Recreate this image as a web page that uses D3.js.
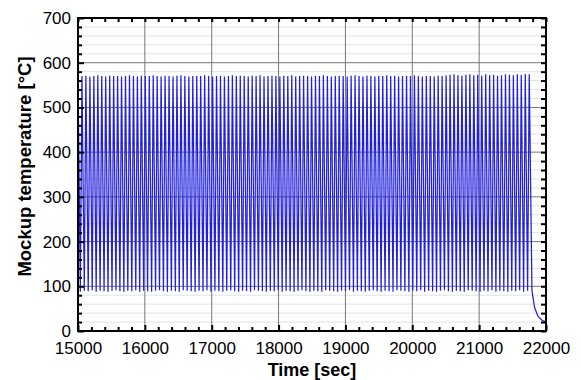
<!DOCTYPE html>
<html>
<head>
<meta charset="utf-8">
<script src="https://cdn.jsdelivr.net/npm/d3@7"></script>
<style>
  body { margin: 0; background: #fff; }
  svg { display: block; font-family: "Liberation Sans", Arial, sans-serif; }
</style>
</head>
<body>
<svg width="581" height="380"></svg>
<script>
// peak times of each thermal cycle [sec]
const peakTimes = [
  15000, 15059, 15118, 15178, 15237,
  15296, 15355, 15414, 15474, 15533,
  15592, 15651, 15710, 15770, 15829,
  15888, 15947, 16006, 16066, 16125,
  16184, 16243, 16302, 16362, 16421,
  16480, 16539, 16598, 16658, 16717,
  16776, 16835, 16894, 16954, 17013,
  17072, 17131, 17190, 17250, 17309,
  17368, 17427, 17486, 17546, 17605,
  17664, 17723, 17782, 17842, 17901,
  17960, 18019, 18078, 18138, 18197,
  18256, 18315, 18374, 18434, 18493,
  18552, 18611, 18670, 18730, 18789,
  18848, 18907, 18966, 19026, 19085,
  19144, 19203, 19262, 19322, 19381,
  19440, 19499, 19558, 19618, 19677,
  19736, 19795, 19854, 19914, 19973,
  20032, 20091, 20150, 20210, 20269,
  20328, 20387, 20446, 20506, 20565,
  20624, 20683, 20742, 20802, 20861,
  20920, 20979, 21038, 21098, 21157,
  21216, 21275, 21334, 21394, 21453,
  21512, 21571, 21630, 21690, 21749
];
// peak temperatures [°C]
const peakTemps = [
  568, 570, 571, 569, 570,
  572, 570, 569, 571, 570,
  571, 569, 570, 572, 570,
  569, 571, 570, 570, 572,
  570, 569, 571, 570, 569,
  571, 572, 570, 569, 570,
  571, 570, 572, 570, 569,
  570, 571, 569, 570, 572,
  570, 571, 570, 569, 571,
  570, 572, 569, 570, 571,
  570, 569, 571, 570, 572,
  569, 570, 571, 570, 569,
  571, 570, 572, 570, 569,
  570, 571, 570, 569, 571,
  572, 570, 569, 571, 570,
  569, 571, 570, 572, 570,
  571, 569, 570, 571, 570,
  572, 570, 569, 571, 570,
  569, 571, 570, 572, 573,
  574, 572, 571, 573, 574,
  572, 573, 571, 574, 572,
  573, 571, 572, 574, 573,
  572, 574, 573, 575, 574
];
// valley times between cycles [sec]
const valleyTimes = [
  15035, 15094, 15153, 15213, 15272,
  15331, 15390, 15449, 15509, 15568,
  15627, 15686, 15745, 15805, 15864,
  15923, 15982, 16041, 16101, 16160,
  16219, 16278, 16337, 16397, 16456,
  16515, 16574, 16633, 16693, 16752,
  16811, 16870, 16929, 16989, 17048,
  17107, 17166, 17225, 17285, 17344,
  17403, 17462, 17521, 17581, 17640,
  17699, 17758, 17817, 17877, 17936,
  17995, 18054, 18113, 18173, 18232,
  18291, 18350, 18409, 18469, 18528,
  18587, 18646, 18705, 18765, 18824,
  18883, 18942, 19001, 19061, 19120,
  19179, 19238, 19297, 19357, 19416,
  19475, 19534, 19593, 19653, 19712,
  19771, 19830, 19889, 19949, 20008,
  20067, 20126, 20185, 20245, 20304,
  20363, 20422, 20481, 20541, 20600,
  20659, 20718, 20777, 20837, 20896,
  20955, 21014, 21073, 21133, 21192,
  21251, 21310, 21369, 21429, 21488,
  21547, 21606, 21665, 21725
];
// valley temperatures [°C]
const valleyTemps = [
  88, 90, 89, 91, 88,
  90, 89, 88, 90, 91,
  89, 88, 90, 89, 91,
  88, 90, 89, 88, 90,
  91, 89, 88, 90, 89,
  88, 91, 90, 89, 88,
  90, 89, 91, 88, 90,
  89, 88, 90, 91, 89,
  88, 90, 89, 88, 91,
  90, 89, 88, 90, 89,
  91, 88, 90, 89, 88,
  90, 91, 89, 88, 90,
  89, 88, 91, 90, 89,
  88, 90, 89, 91, 88,
  90, 89, 88, 90, 91,
  89, 88, 90, 89, 88,
  91, 90, 89, 88, 90,
  89, 91, 88, 90, 89,
  88, 90, 91, 89, 88,
  90, 89, 88, 91, 90,
  89, 88, 90, 89, 91,
  88, 90, 89, 88, 90,
  89, 91, 88, 90
];
// final cool-down after last cycle
const coolTimes = [21790, 21830, 21880, 21940, 22000];
const coolTemps = [90, 52, 33, 24, 20];

const xTicks = [15000, 16000, 17000, 18000, 19000, 20000, 21000, 22000];
const yTicks = [0, 100, 200, 300, 400, 500, 600, 700];

const width = 581;
const height = 380;
const margin = { top: 18, right: 35, bottom: 49, left: 78 };

const svg = d3.select('svg');

const x = d3.scaleLinear()
  .domain([15000, 22000])
  .range([margin.left, width - margin.right]);

const y = d3.scaleLinear()
  .domain([0, 700])
  .range([height - margin.bottom, margin.top]);

// build the signal: peak, valley, peak, ... then cool-down
const data = [];
peakTimes.forEach((t, i) => {
  data.push([t, peakTemps[i]]);
  if (i < valleyTimes.length) data.push([valleyTimes[i], valleyTemps[i]]);
});
coolTimes.forEach((t, i) => data.push([t, coolTemps[i]]));

const minorY = d3.range(0, 701, 20).filter(v => v % 100 !== 0);
const minorX = d3.range(15000, 22001, 200).filter(v => v % 1000 !== 0);

// minor grid (horizontal only)
svg.append('g')
  .selectAll('line')
  .data(minorY)
  .enter().append('line')
  .attr('x1', x(15000)).attr('x2', x(22000))
  .attr('y1', d => y(d)).attr('y2', d => y(d))
  .attr('stroke', '#e2e2e2')
  .attr('stroke-width', 1);

// major grid
svg.append('g')
  .selectAll('line')
  .data(yTicks)
  .enter().append('line')
  .attr('x1', x(15000)).attr('x2', x(22000))
  .attr('y1', d => y(d)).attr('y2', d => y(d))
  .attr('stroke', '#777')
  .attr('stroke-width', 1);

svg.append('g')
  .selectAll('line')
  .data(xTicks)
  .enter().append('line')
  .attr('x1', d => x(d)).attr('x2', d => x(d))
  .attr('y1', y(0)).attr('y2', y(700))
  .attr('stroke', '#777')
  .attr('stroke-width', 1);

// data line
const line = d3.line()
  .x(d => x(d[0]))
  .y(d => y(d[1]));

svg.append('path')
  .datum(data)
  .attr('fill', 'none')
  .attr('stroke', '#2020dd')
  .attr('stroke-width', 1.25)
  .attr('d', line);

// axes with inward ticks
function styleAxis(g) {
  g.select('.domain').remove();
  g.selectAll('.tick line').attr('stroke', '#000').attr('stroke-width', 2);
  g.selectAll('.tick text')
    .attr('fill', '#000')
    .attr('font-size', 17);
}

svg.append('g')
  .attr('transform', `translate(0,${y(0)})`)
  .call(d3.axisBottom(x).tickValues(xTicks).tickSize(-6).tickPadding(11).tickFormat(d3.format('d')))
  .call(styleAxis);

svg.append('g')
  .attr('transform', `translate(0,${y(0)})`)
  .call(d3.axisBottom(x).tickValues(minorX).tickSize(-4).tickFormat(''))
  .call(styleAxis);

svg.append('g')
  .attr('transform', `translate(0,${y(700)})`)
  .call(d3.axisTop(x).tickValues(xTicks.concat(minorX)).tickSize(-4).tickFormat(''))
  .call(styleAxis);

svg.append('g')
  .attr('transform', `translate(${x(15000)},0)`)
  .call(d3.axisLeft(y).tickValues(yTicks).tickSize(-6).tickPadding(7))
  .call(styleAxis);

svg.append('g')
  .attr('transform', `translate(${x(15000)},0)`)
  .call(d3.axisLeft(y).tickValues(minorY).tickSize(-4).tickFormat(''))
  .call(styleAxis);

svg.append('g')
  .attr('transform', `translate(${x(22000)},0)`)
  .call(d3.axisRight(y).tickValues(yTicks.concat(minorY)).tickSize(-5).tickFormat(''))
  .call(styleAxis);

// frame
svg.append('rect')
  .attr('x', x(15000))
  .attr('y', y(700))
  .attr('width', x(22000) - x(15000))
  .attr('height', y(0) - y(700))
  .attr('fill', 'none')
  .attr('stroke', '#000')
  .attr('stroke-width', 2);

// axis titles
svg.append('text')
  .attr('x', (x(15000) + x(22000)) / 2)
  .attr('y', 376)
  .attr('text-anchor', 'middle')
  .attr('font-size', 18)
  .attr('font-weight', 'bold')
  .text('Time [sec]');

svg.append('text')
  .attr('transform', `translate(31,${(y(0) + y(700)) / 2 - 8}) rotate(-90)`)
  .attr('text-anchor', 'middle')
  .attr('font-size', 18.5)
  .attr('font-weight', 'bold')
  .text('Mockup temperature [°C]');
</script>
</body>
</html>
